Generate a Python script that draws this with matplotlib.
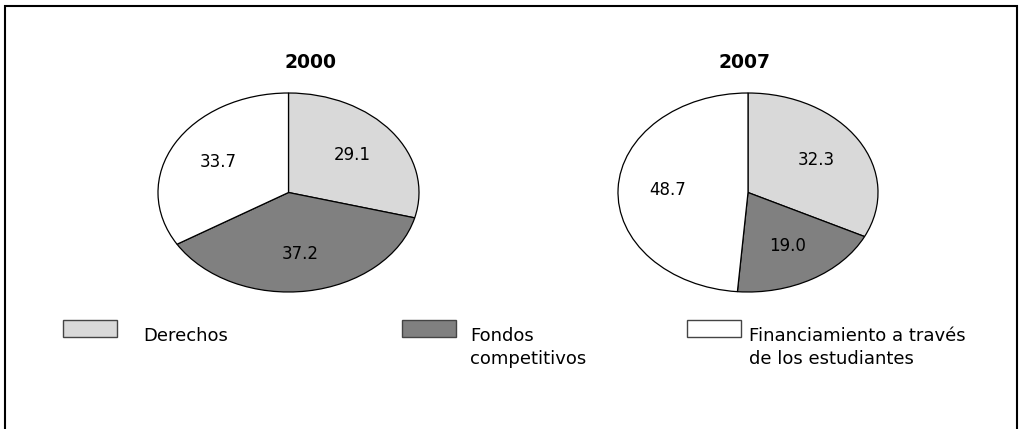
import matplotlib.pyplot as plt
from matplotlib.patches import Rectangle

plt.rcParams["font.family"] = ["DejaVu Sans"]

W, H = 1020, 429

categories = ["Derechos", "Fondos\ncompetitivos", "Financiamiento a través\nde los estudiantes"]
colors = ["#d9d9d9", "#808080", "#ffffff"]
years = ["2000", "2007"]
shares_2000 = [29.1, 37.2, 33.7]
shares_2007 = [32.3, 19.0, 48.7]

fig = plt.figure(figsize=(W / 100, H / 100), dpi=100)

# outer frame (bottom edge runs off the picture)
fig.patches.append(Rectangle((5 / W, -0.05), 1012 / W, 1.05 - 6 / H,
                             transform=fig.transFigure, fill=False,
                             edgecolor="black", linewidth=1.5))


def pie_axes(x0, x1, y0, y1):
    return fig.add_axes([x0 / W, (H - y1) / H, (x1 - x0) / W, (y1 - y0) / H])


pies = [
    (pie_axes(158, 419, 93, 292), shares_2000, years[0], 311),
    (pie_axes(618, 878, 93, 292), shares_2007, years[1], 745),
]

for ax, vals, year, tx in pies:
    wedges, texts, autotexts = ax.pie(
        vals, colors=colors, startangle=90, counterclock=False,
        autopct="%.1f", pctdistance=0.62,
        wedgeprops=dict(edgecolor="black", linewidth=0.9),
        textprops=dict(fontsize=12, color="black"))
    for w in wedges:
        w.set_clip_on(False)
    ax.set_aspect("auto")
    ax.set_xlim(-1, 1)
    ax.set_ylim(-1, 1)
    ax.axis("off")
    fig.text(tx / W, (H - 68) / H, year, ha="center", va="baseline",
             fontsize=13.5, fontweight="bold")

# legend drawn by hand to keep the wide spacing of the original
box_x = [63, 402, 687]
text_x = [143, 470, 749]
for bx, tx, lab, col in zip(box_x, text_x, categories, colors):
    fig.patches.append(Rectangle((bx / W, (H - 337) / H), 54 / W, 17 / H,
                                 transform=fig.transFigure, facecolor=col,
                                 edgecolor="#444444", linewidth=1.0))
    fig.text(tx / W, (H - 327) / H, lab, ha="left", va="top",
             fontsize=13, linespacing=1.35)

fig.savefig("out.png", dpi=100)
